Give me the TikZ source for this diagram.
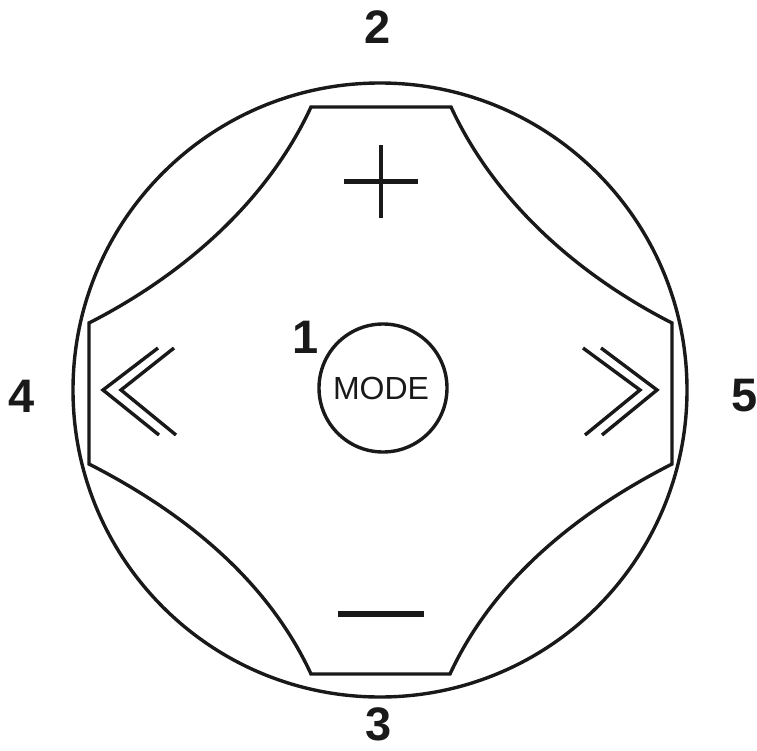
\documentclass[tikz,border=0pt]{standalone}
\usepackage{fontspec}
\setmainfont{Liberation Sans}
\begin{document}
\begin{tikzpicture}[x=1pt,y=-1pt,
  outline/.style={line width=3.4pt,draw=black!90,line join=miter},
  chev/.style={line width=3.4pt,draw=black!90,line join=miter},
  sign/.style={draw=black!90},
  numlabel/.style={inner sep=0pt,font=\fontsize{47}{47}\selectfont\bfseries,text=black!90},
  modelabel/.style={inner sep=0pt,font=\fontsize{32}{32}\selectfont,text=black!90}]
\useasboundingbox (0,0) rectangle (757,751);
% outer ring
\draw[outline] (380,390) circle[radius=307];
% cross-shaped pad
\draw[outline] (311,107) -- (451,107)
  .. controls (495,202) and (578,275) .. (672,323)
  -- (672,464)
  .. controls (578,512) and (494,579) .. (450,674)
  -- (311,674)
  .. controls (267,579) and (183,512) .. (89,464)
  -- (89,323)
  .. controls (183,275) and (267,202) .. (311,107) -- cycle;
% plus
\draw[sign,line width=4.8pt] (381,145) -- (381,218);
\draw[sign,line width=5pt] (344,182) -- (418,182);
% minus
\draw[sign,line width=5.8pt] (338,614) -- (424,614);
% left chevrons
\draw[chev] (158,348) -- (103,390) -- (159,435);
\draw[chev] (174,348) -- (121,390) -- (176,435);
% right chevrons
\draw[chev] (583,348) -- (640,390) -- (585,435);
\draw[chev] (601,348) -- (657,390) -- (602,435);
% MODE button
\node[circle,draw=black!90,line width=3.4pt,minimum size=128pt,inner sep=0pt] (modebtn) at (383,388) {};
\node[modelabel] (modetext) at (381,388.5) {MODE};
% labels
\node[numlabel] (n1) at (306,337) {1};
\node[numlabel] (n2) at (378,27) {2};
\node[numlabel] (n3) at (379,724) {3};
\node[numlabel] (n4) at (22,396) {4};
\node[numlabel] (n5) at (745,396) {5};
\end{tikzpicture}
\end{document}
